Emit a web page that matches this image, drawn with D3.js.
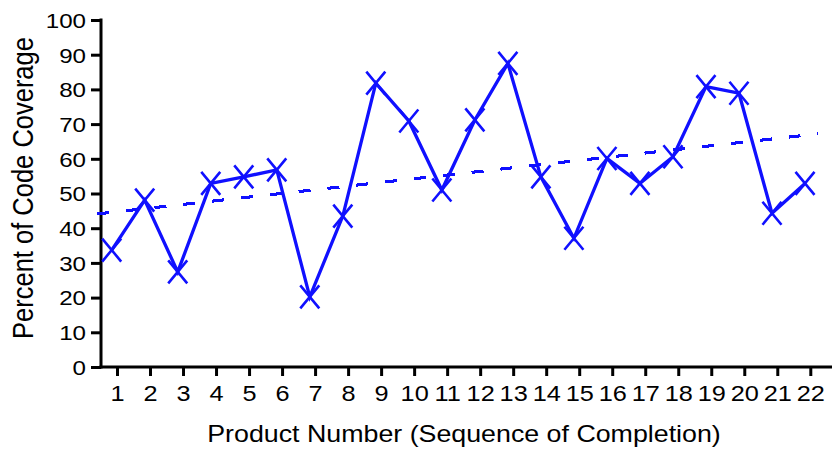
<!DOCTYPE html>
<html>
<head>
<meta charset="utf-8">
<script src="https://cdn.jsdelivr.net/npm/d3@7"></script>
<style>
  html, body { margin: 0; padding: 0; background: #fff; }
  svg { display: block; font-family: "Liberation Sans", Arial, sans-serif; }
</style>
</head>
<body>
<svg id="chart" width="832" height="451"></svg>
<script>
// ---- data ----
const products = d3.range(1, 23); // 1..22
const coverage = [33.7, 48.1, 27.4, 52.9, 54.8, 56.8, 20.2, 43.5, 81.8, 70.9, 51.0,
                  71.2, 87.5, 54.8, 37.1, 60.1, 52.9, 60.6, 80.8, 78.9, 44.3, 52.9];
const yTicks = [0, 10, 20, 30, 40, 50, 60, 70, 80, 90, 100];
const trendX = [0.55, 22.4];
const trendY = [44.1, 67.2];
const xTitle = "Product Number (Sequence of Completion)";
const yTitle = "Percent of Code Coverage";

// ---- layout ----
const W = 832, H = 451;
const color = "#1010ff";
const stretch = 1.15; // text in the original is drawn horizontally wide
const svg = d3.select("#chart");

const x = d3.scaleLinear().domain([1, 22]).range([111.7, 805]);
const tickShift = 5.3; // tick marks sit slightly right of the points
const y = d3.scaleLinear().domain([0, 100]).range([367, 20]);
const axisX0 = 101;

// y axis
const yAxis = svg.append("g")
  .attr("transform", `translate(${axisX0},0)`)
  .call(d3.axisLeft(y).tickValues(yTicks).tickSize(10).tickSizeOuter(0).tickPadding(4));
yAxis.select(".domain").remove();
yAxis.selectAll(".tick line").attr("stroke", "#000").attr("stroke-width", 3);
yAxis.selectAll(".tick text")
  .attr("x", 0).attr("dy", "0.35em")
  .attr("transform", `translate(-15,0) scale(${stretch},1)`)
  .attr("font-size", 21).attr("fill", "#000")
  .attr("font-family", "Liberation Sans, Arial, sans-serif");
svg.append("line").attr("x1", axisX0).attr("x2", axisX0)
  .attr("y1", y(100) - 1.5).attr("y2", y(0) + 1.5)
  .attr("stroke", "#000").attr("stroke-width", 3);

// x axis
const xTickScale = d3.scaleLinear().domain([1, 22]).range([x(1) + tickShift, x(22) + tickShift]);
const xAxis = svg.append("g")
  .attr("transform", `translate(0,${y(0)})`)
  .call(d3.axisBottom(xTickScale).tickValues(products).tickFormat(d3.format("d"))
        .tickSize(9).tickSizeOuter(0));
xAxis.select(".domain").remove();
xAxis.selectAll(".tick line").attr("stroke", "#000").attr("stroke-width", 3);
xAxis.selectAll(".tick text")
  .attr("y", 0).attr("dy", 0)
  .attr("transform", `translate(0,33.7) scale(${stretch},1)`)
  .attr("font-size", 22).attr("fill", "#000")
  .attr("font-family", "Liberation Sans, Arial, sans-serif");
svg.append("line").attr("x1", axisX0 - 1.5).attr("x2", W)
  .attr("y1", y(0)).attr("y2", y(0))
  .attr("stroke", "#000").attr("stroke-width", 3);

// trend line (dashed)
svg.append("line")
  .attr("x1", x(trendX[0])).attr("y1", y(trendY[0]))
  .attr("x2", x(trendX[1])).attr("y2", y(trendY[1]))
  .attr("stroke", color).attr("stroke-width", 3)
  .attr("shape-rendering", "crispEdges")
  .attr("stroke-dasharray", "12,17");

// data line
const pts = products.map((p, i) => [p, coverage[i]]);
svg.append("path")
  .datum(pts)
  .attr("fill", "none")
  .attr("stroke", color)
  .attr("stroke-width", 3.3)
  .attr("stroke-linejoin", "miter")
  .attr("d", d3.line().x(d => x(d[0])).y(d => y(d[1])));

// X markers
const mw = 9.5, mh = 11.5;
svg.append("g").selectAll("path.mk")
  .data(pts).join("path")
  .attr("class", "mk")
  .attr("transform", d => `translate(${x(d[0])},${y(d[1])})`)
  .attr("d", `M${-mw},${-mh}L${mw},${mh}M${mw},${-mh}L${-mw},${mh}`)
  .attr("stroke", color).attr("stroke-width", 2.6).attr("fill", "none");

// titles
svg.append("text")
  .attr("transform", `translate(464,441.7) scale(${stretch},1)`)
  .attr("text-anchor", "middle").attr("font-size", 23.3).attr("fill", "#000")
  .text(xTitle);
svg.append("text")
  .attr("transform", `translate(33,188) scale(${stretch},1) rotate(-90)`)
  .attr("text-anchor", "middle").attr("font-size", 25.5).attr("fill", "#000")
  .text(yTitle);
</script>
</body>
</html>
